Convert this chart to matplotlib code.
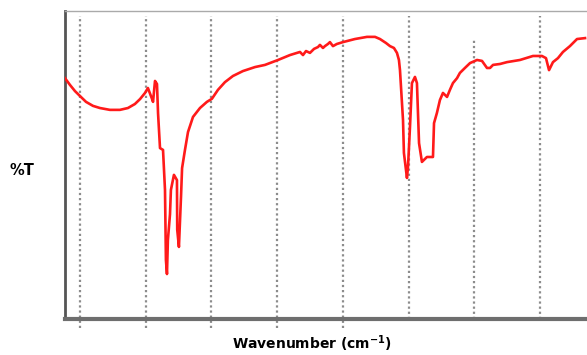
import matplotlib
matplotlib.use("Agg")
import matplotlib.pyplot as plt

# FTIR spectrum (wavenumber cm-1, %T)
wavenumber = [4114, 4076, 4038, 4000, 3954, 3901, 3848, 3772, 3696, 3635, 3582, 3543, 3505,
              3483, 3452, 3444, 3429, 3414, 3406, 3391, 3368, 3353, 3346, 3338, 3331, 3315,
              3308, 3285, 3262, 3260, 3247, 3231, 3223, 3201, 3178, 3140, 3087, 3034, 2996,
              2950, 2897, 2836, 2760, 2668, 2592, 2493, 2402, 2326, 2303, 2280, 2250, 2219,
              2189, 2174, 2151, 2136, 2113, 2098, 2075, 2045, 1999, 1908, 1816, 1755, 1717,
              1671, 1641, 1611, 1588, 1573, 1565, 1542, 1535, 1512, 1504, 1489, 1474, 1451,
              1436, 1420, 1398, 1360, 1314, 1306, 1284, 1261, 1238, 1207, 1185, 1162, 1131,
              1109, 1071, 1032, 979, 941, 903, 880, 857, 804, 751, 652, 553, 485, 454, 431,
              401, 363, 325, 272, 218, 157]
transmittance = [78.2, 76.0, 74.0, 72.4, 70.5, 69.2, 68.5, 67.9, 67.9, 68.5, 69.8, 71.4, 73.4,
                 75.0, 71.5, 70.5, 77.3, 76.3, 66.9, 55.5, 54.9, 41.9, 19.2, 14.6, 25.6, 34.0,
                 41.9, 46.8, 45.1, 29.0, 23.4, 39.9, 49.0, 54.9, 60.7, 65.6, 68.5, 70.5, 71.5,
                 74.4, 76.9, 78.9, 80.5, 81.8, 82.5, 84.1, 85.7, 86.7, 85.7, 87.0, 86.4, 87.7,
                 88.3, 89.0, 88.0, 88.6, 89.3, 89.9, 88.6, 89.3, 89.9, 90.9, 91.6, 91.6, 90.9,
                 89.6, 88.6, 88.0, 86.4, 84.1, 80.8, 64.6, 53.9, 45.8, 49.4, 62.3, 76.6, 78.6,
                 76.6, 57.1, 51.0, 52.6, 52.6, 63.6, 66.9, 71.1, 73.4, 72.1, 74.4, 76.6, 78.2,
                 79.9, 81.5, 83.1, 84.1, 83.8, 81.5, 81.5, 82.5, 82.8, 83.4, 84.1, 85.4, 85.4,
                 84.7, 80.8, 83.4, 84.7, 86.7, 88.6, 90.9, 91.2]

grid_positions = [4000, 3500, 3000, 2500, 2000, 1500, 1000, 500]

fig = plt.figure(figsize=(5.87, 3.55), dpi=100)
ax = fig.add_axes([0.1107, 0.1014, 0.8893, 0.8676])

ax.plot(wavenumber, transmittance, color="#ff1a1a", lw=1.9, zorder=3)

# dotted vertical grid, the first five run a little below the frame
for i, g in enumerate(grid_positions):
    top = 0.912 if g == 1000 else 0.985
    bottom = -0.03 if i < 5 else 0.0
    ax.axvline(g, ymin=bottom, ymax=top, color="#8c8c8c", lw=1.6,
               ls=(0, (1, 1.3)), clip_on=False, zorder=1)

ax.set_xlim(4114, 142)
ax.set_ylim(0, 100)
ax.set_xticks([])
ax.set_yticks([])

ax.spines["left"].set_color("#555555")
ax.spines["left"].set_linewidth(2.0)
ax.spines["top"].set_color("#aaaaaa")
ax.spines["top"].set_linewidth(1.0)
ax.spines["bottom"].set_color("#6e6e6e")
ax.spines["bottom"].set_linewidth(3.0)
ax.spines["right"].set_visible(False)

fig.text(0.038, 0.52, "%T", fontsize=10.5, fontweight="bold", ha="center", va="center")
fig.text(0.532, 0.032, "Wavenumber (cm$^{\\mathbf{-1}}$)", fontsize=10, fontweight="bold",
         ha="center", va="center")

fig.savefig("out.png", dpi=100)
